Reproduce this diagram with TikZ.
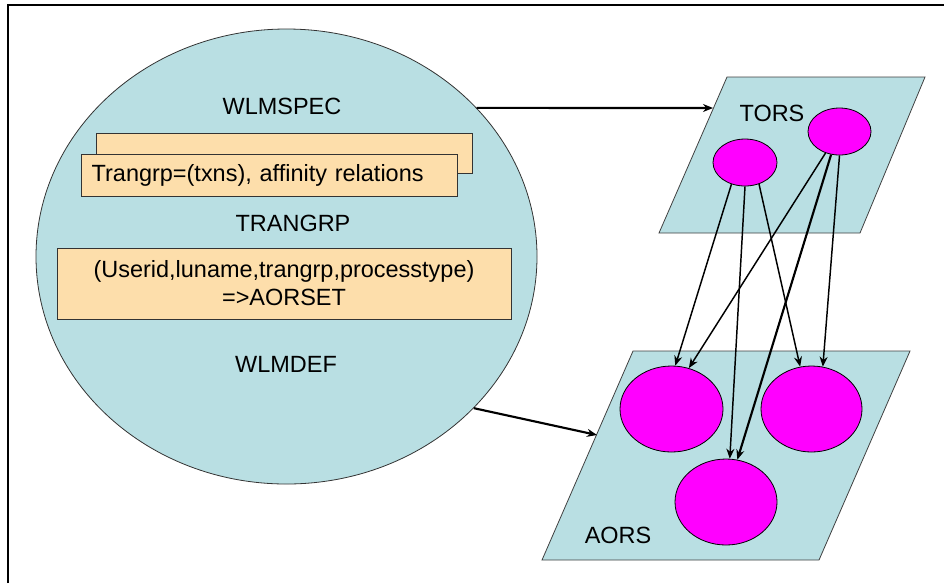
\documentclass[tikz,border=0pt]{standalone}
\usepackage{fontspec}
\setmainfont{Liberation Sans}
\usepackage{tikz}
\usetikzlibrary{arrows.meta,shapes.geometric}
\definecolor{wlmblue}{HTML}{B9DFE3}
\definecolor{specorange}{HTML}{FDDEAB}
\definecolor{regionpink}{HTML}{FF00FF}

\begin{document}
\begin{tikzpicture}[x=0.75pt, y=-0.75pt, font=\fontsize{17.6}{21}\selectfont,
  >={Stealth[length=7.5pt,width=6pt]},
  plane/.style={fill=wlmblue, draw=black!75, line width=0.6pt},
  region/.style={ellipse, fill=regionpink, draw=black, line width=0.6pt, inner sep=0pt},
  specbox/.style={fill=specorange, draw=black!80, line width=0.6pt},
  route/.style={->, line width=1.1pt}]
\useasboundingbox (0,0) rectangle (944,583);
% frame (only left and top edges are inside the picture)
\draw[line width=0.8pt] (8,583) -- (8,5) -- (944,5);
% WLM definitions
\node[ellipse, fill=wlmblue, draw=black!80, line width=0.6pt, inner sep=0pt,
  minimum width=375.75pt, minimum height=341.25pt] (wlm) at (286.5,256.5) {};
\node (wlmspec) at (282,106) {WLMSPEC};
\node[specbox, minimum width=282pt, minimum height=30pt] (backbox) at (284,153) {};
\node[specbox, minimum width=282pt, minimum height=31.5pt, inner xsep=8pt,
  text width=266pt, align=left] (trangrpbox) at (269,175) {Trangrp=(txns), affinity relations};
\node (trangrp) at (293,223) {TRANGRP};
\node[specbox, minimum width=340.5pt, minimum height=53.25pt, align=center]
  (aorsetbox) at (284,283.5) {(Userid,luname,trangrp,processtype)\\=>AORSET};
\node (wlmdef) at (286,364) {WLMDEF};
% TOR plane
\draw[plane] (727,77) -- (925,77) -- (860,233) -- (659,233) -- cycle;
\node (tors) at (772,113) {TORS};
\node[region, minimum width=48pt, minimum height=35.25pt] (tor1) at (745,162.5) {};
\node[region, minimum width=47.25pt, minimum height=35.25pt] (tor2) at (839.5,131.5) {};
\coordinate (torsedge) at (713,108);
% AOR plane
\draw[plane] (633,351) -- (910,351) -- (819,560) -- (542,560) -- cycle;
\node (aors) at (618,535) {AORS};
\node[region, minimum width=77.25pt, minimum height=64.5pt] (aor1) at (671.5,409) {};
\node[region, minimum width=75.75pt, minimum height=64.5pt] (aor2) at (811.5,409) {};
\node[region, minimum width=76.5pt, minimum height=64.5pt] (aor3) at (726,502) {};
\coordinate (aorsedge) at (597,435);
% definitions applied to the regions
\draw[->, line width=1.6pt] (wlm.38) -- (torsedge);
\draw[->, line width=1.6pt] (wlm.-39) -- (aorsedge);
% routing from TORs to AORs
\draw[route] (tor1.-122) -- (aor1.85);
\draw[route] (tor1.-90) -- (aor3.85);
\draw[route] (tor1.-57) -- (aor2.105);
\draw[route] (tor2.-123) -- (aor1.67);
\draw[route, line width=1.6pt] (tor2.-110) -- (aor3.75);
\draw[route] (tor2.-90) -- (aor2.75);
\end{tikzpicture}
\end{document}
